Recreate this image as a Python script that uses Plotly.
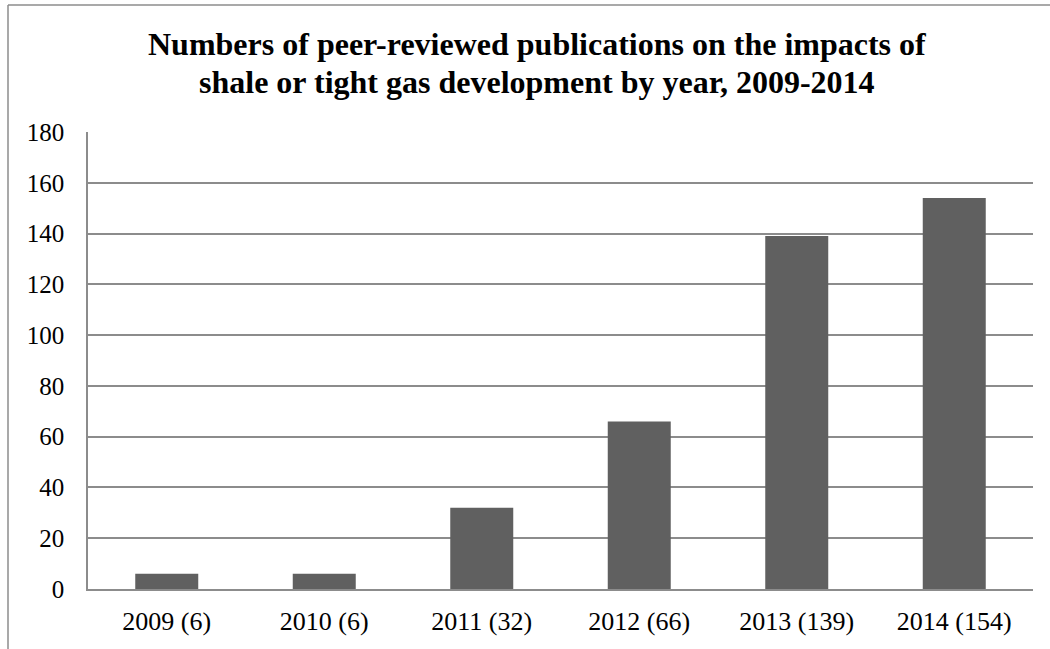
import plotly.graph_objects as go

categories = ["2009 (6)", "2010 (6)", "2011 (32)", "2012 (66)", "2013 (139)", "2014 (154)"]
publications = [6, 6, 32, 66, 139, 154]
y_ticks = [0, 20, 40, 60, 80, 100, 120, 140, 160, 180]
title_lines = ["Numbers of peer-reviewed publications on the impacts of",
               "shale or tight gas development by year, 2009-2014"]

W, H = 1050, 649
L, R, T, B = 88, 17, 132, 60
pw, ph = W - L - R, H - T - B

def px(x):
    return (x - L) / pw

def py(y):
    return (H - B - y) / ph

grey = "#8c8c8c"
font_family = "Liberation Serif, Times New Roman, serif"

fig = go.Figure(go.Bar(
    x=categories, y=publications,
    marker=dict(color="#606060", line=dict(width=0)),
    width=0.4,
))

fig.update_layout(
    width=W, height=H,
    margin=dict(l=L, r=R, t=T, b=B, autoexpand=False),
    paper_bgcolor="white", plot_bgcolor="white",
    font=dict(family=font_family, size=26, color="black"),
    showlegend=False,
    bargap=0.6,
)
fig.update_xaxes(
    showline=True, linecolor=grey, linewidth=1.5,
    showgrid=False, ticks="", ticklabelstandoff=8,
    tickfont=dict(family=font_family, size=26),
    automargin=False,
)
fig.update_yaxes(
    range=[0, 180], tickvals=y_ticks,
    showline=True, linecolor=grey, linewidth=1.5,
    showgrid=True, gridcolor=grey, gridwidth=1.5,
    zeroline=False, ticks="", ticklabelstandoff=17,
    tickfont=dict(family=font_family, size=25),
    automargin=False,
)

for i, line in enumerate(title_lines):
    fig.add_annotation(
        text="<b>" + line + "</b>",
        xref="paper", yref="paper", x=px(537), y=py(24 + 38 * i),
        xanchor="center", yanchor="top", showarrow=False,
        font=dict(family=font_family, size=32, color="black"),
    )

# outer chart frame (top and left edges visible)
fig.add_shape(type="line", xref="paper", yref="paper",
              x0=px(8), x1=px(1050), y0=py(5), y1=py(5),
              line=dict(color=grey, width=1.5))
fig.add_shape(type="line", xref="paper", yref="paper",
              x0=px(8), x1=px(8), y0=py(5), y1=py(649),
              line=dict(color=grey, width=1.5))

fig.write_html("out.html",
               config={"displayModeBar": False},
               post_script="document.body.style.margin='0';document.body.style.overflow='hidden';")
